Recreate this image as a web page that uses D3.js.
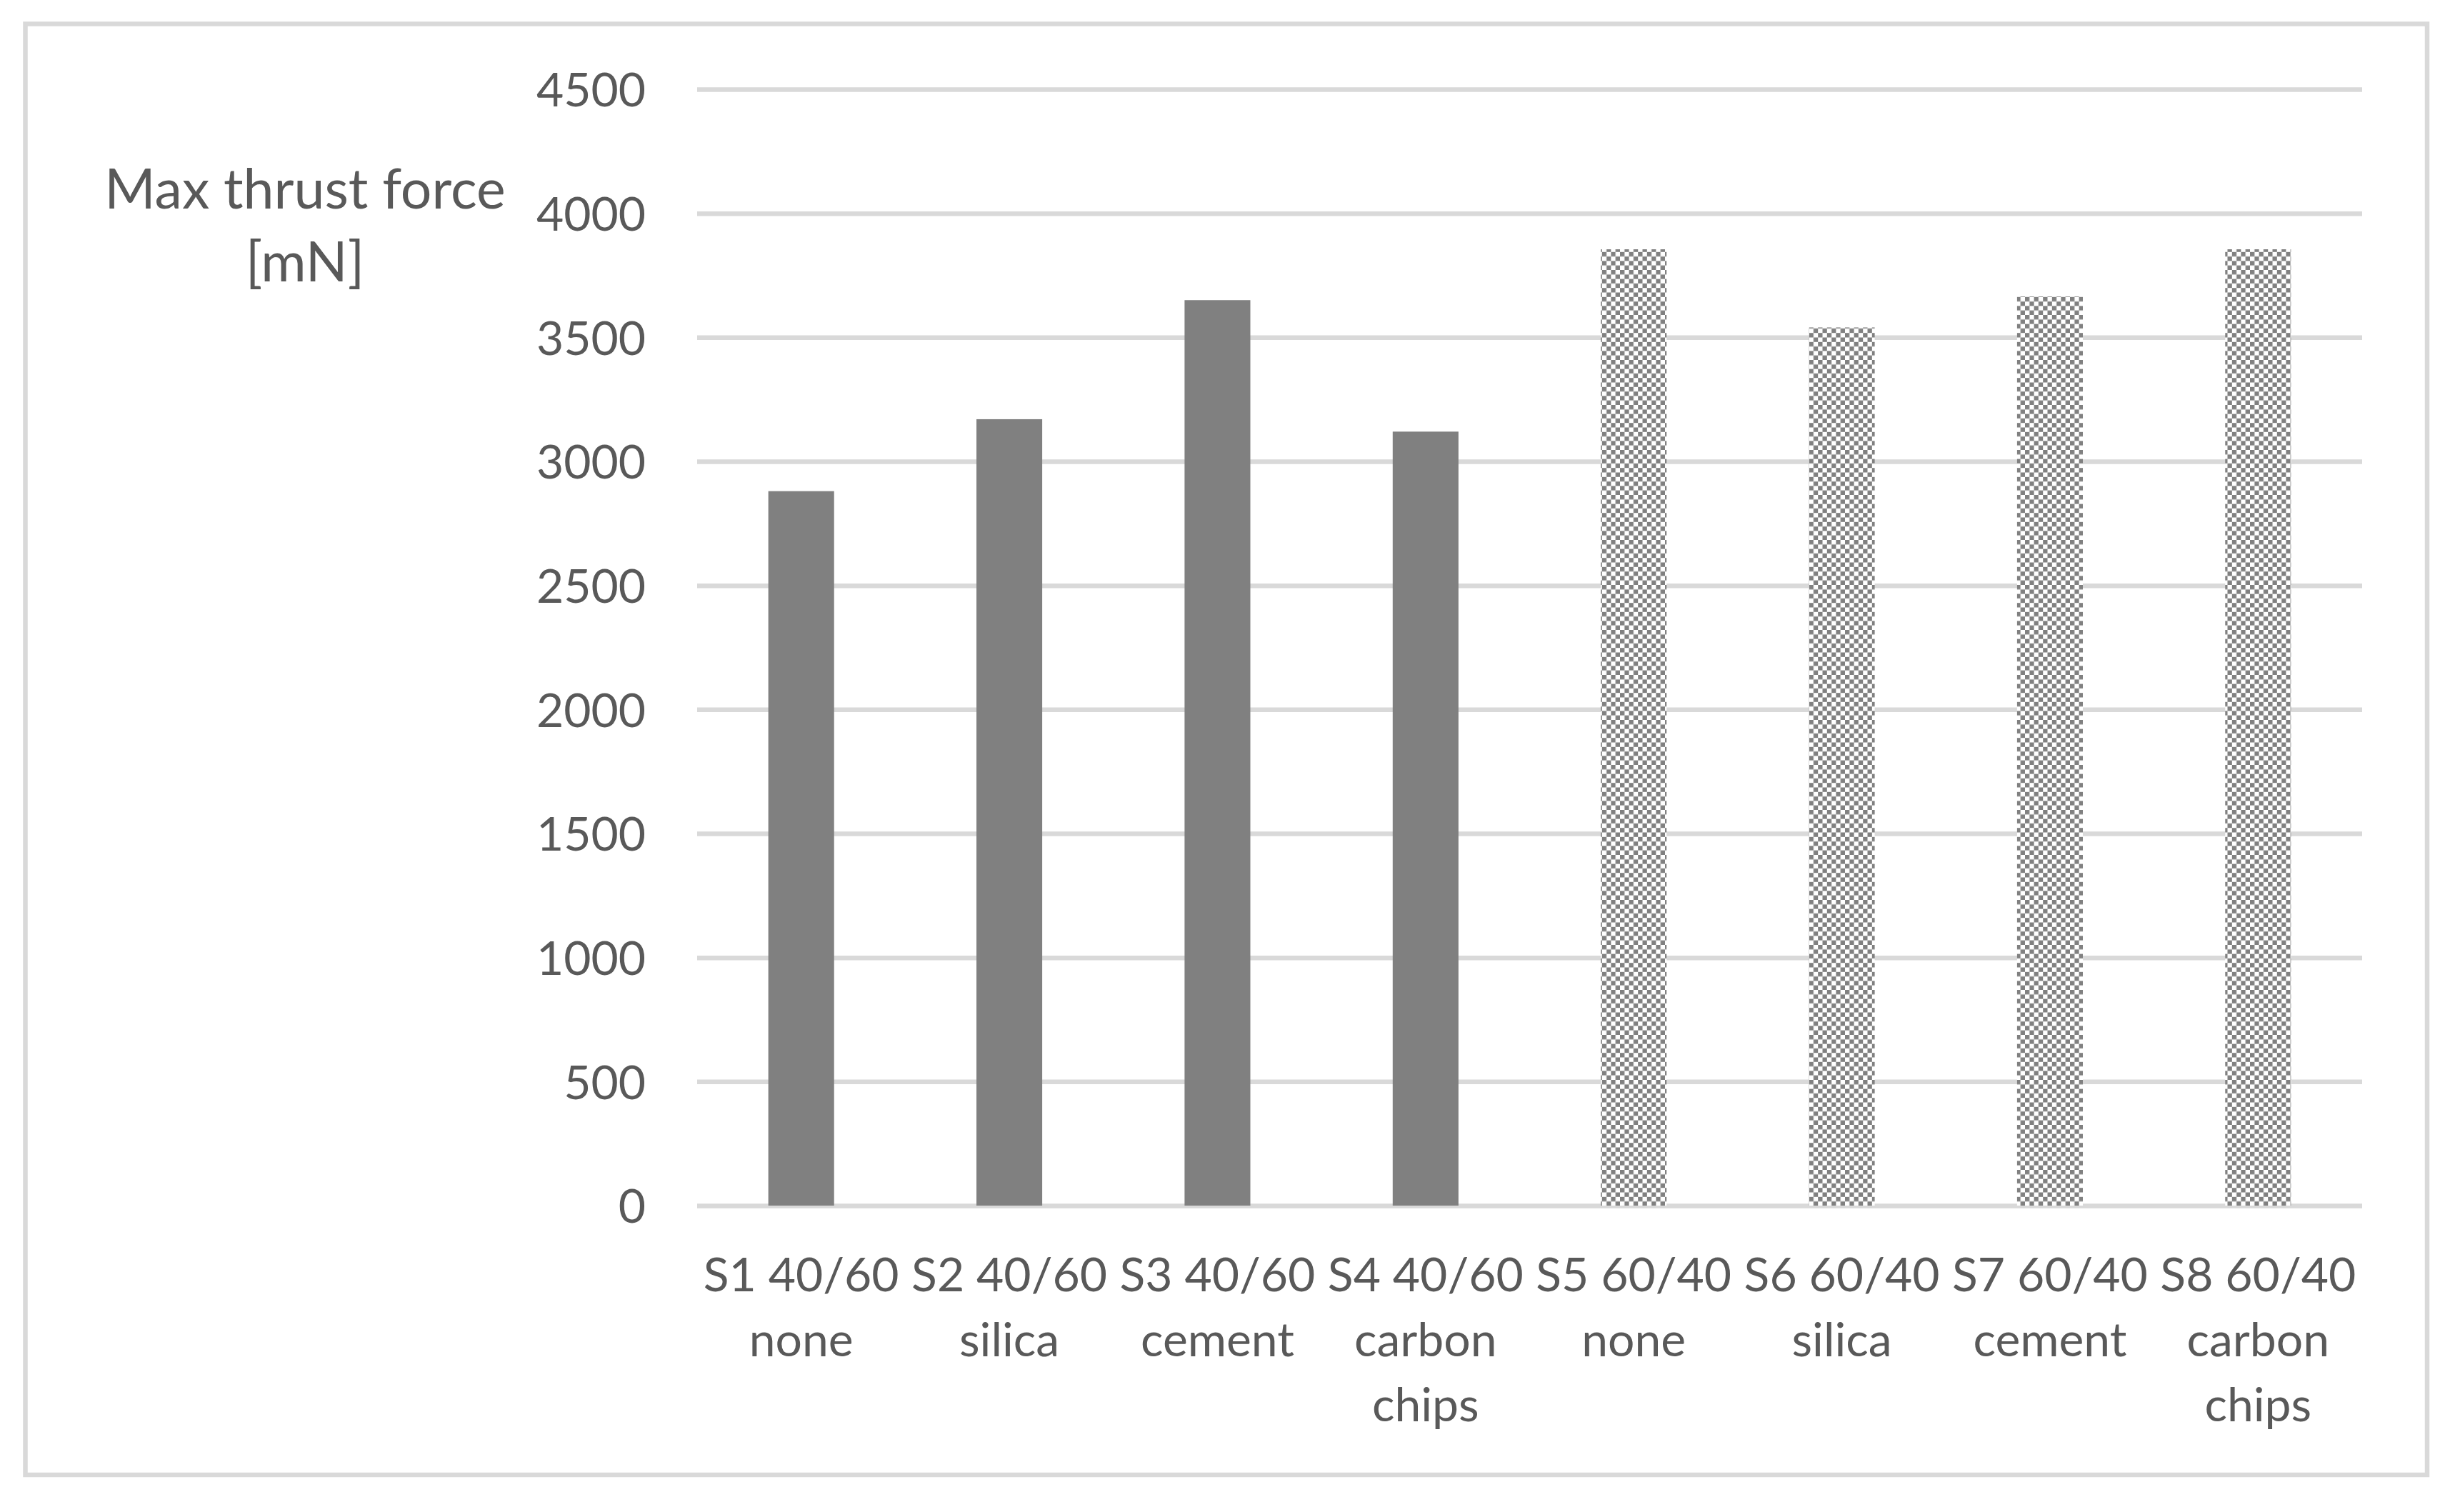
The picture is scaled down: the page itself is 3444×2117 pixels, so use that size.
<!DOCTYPE html>
<html>
<head>
<meta charset="utf-8">
<script src="https://cdn.jsdelivr.net/npm/d3@7.9.0/dist/d3.min.js"></script>
<style>
  body { margin: 0; background: #fff; }
  svg text { font-family: Lato, "Open Sans", sans-serif; fill: #595959; }
</style>
</head>
<body>
<svg id="chart" width="3444" height="2117"></svg>
<script>
// data
const samples = ['S1', 'S2', 'S3', 'S4', 'S5', 'S6', 'S7', 'S8'];
const ratios = ['40/60', '40/60', '40/60', '40/60', '60/40', '60/40', '60/40', '60/40'];
const fillers = [['none'], ['silica'], ['cement'], ['carbon', 'chips'], ['none'], ['silica'], ['cement'], ['carbon', 'chips']];
const thrust = [2880, 3170, 3650, 3120, 3855, 3540, 3665, 3855];
const yTicks = [0, 500, 1000, 1500, 2000, 2500, 3000, 3500, 4000, 4500];

const svg = d3.select('#chart');
const W = 3444, H = 2117;
const plot = { left: 976, right: 3307, top: 125, bottom: 1688 };

svg.append('rect').attr('width', W).attr('height', H).attr('fill', '#fff');

// outer chart border
svg.append('rect')
  .attr('x', 35.5).attr('y', 33.5)
  .attr('width', 3398 - 35.5).attr('height', 2065 - 33.5)
  .attr('fill', 'none')
  .attr('stroke', '#d9d9d9')
  .attr('stroke-width', 6.5);

// checkerboard fill for the 60/40 bars
const defs = svg.append('defs');
const pat = defs.append('pattern')
  .attr('id', 'checker')
  .attr('patternUnits', 'userSpaceOnUse')
  .attr('width', 12.6).attr('height', 12.6);
pat.append('rect').attr('width', 12.6).attr('height', 12.6).attr('fill', '#fff');
pat.append('rect').attr('width', 6.3).attr('height', 6.3).attr('fill', '#808080');
pat.append('rect').attr('x', 6.3).attr('y', 6.3).attr('width', 6.3).attr('height', 6.3).attr('fill', '#808080');

const x = d3.scaleBand()
  .domain(samples)
  .range([plot.left, plot.right])
  .paddingInner(0.684)
  .paddingOuter(0.342);

const y = d3.scaleLinear()
  .domain([0, 4500])
  .range([plot.bottom, plot.top]);

// gridlines
const grid = svg.append('g')
  .attr('transform', `translate(${plot.left},0)`)
  .call(d3.axisLeft(y).tickValues(yTicks).tickSize(-(plot.right - plot.left)).tickFormat(''));
grid.select('.domain').remove();
grid.selectAll('line').attr('stroke', '#d9d9d9').attr('stroke-width', 6.5);

// y tick labels
const yAxis = svg.append('g')
  .attr('transform', `translate(${plot.left},0)`)
  .call(d3.axisLeft(y).tickValues(yTicks).tickSize(0).tickPadding(72).tickFormat(d3.format('d')));
yAxis.select('.domain').remove();
yAxis.selectAll('text')
  .attr('font-size', 66)
  .attr('fill', '#595959')
  .attr('font-family', 'Lato, sans-serif')
  .attr('dy', '0.36em');

// bars
svg.append('g').selectAll('rect')
  .data(samples)
  .join('rect')
  .attr('x', d => x(d))
  .attr('width', x.bandwidth())
  .attr('y', (d, i) => y(thrust[i]))
  .attr('height', (d, i) => y(0) - y(thrust[i]))
  .attr('fill', (d, i) => ratios[i] === '40/60' ? '#808080' : 'url(#checker)');

// category labels
const labels = svg.append('g').selectAll('text')
  .data(samples)
  .join('text')
  .attr('x', d => x(d) + x.bandwidth() / 2)
  .attr('y', 1808)
  .attr('text-anchor', 'middle')
  .attr('font-size', 66);

labels.each(function (d, i) {
  const t = d3.select(this);
  t.append('tspan').attr('x', x(d) + x.bandwidth() / 2).text(`${d} ${ratios[i]}`);
  fillers[i].forEach(word => {
    t.append('tspan').attr('x', x(d) + x.bandwidth() / 2).attr('dy', 91).text(word);
  });
});

// y axis title
const title = svg.append('text')
  .attr('text-anchor', 'middle')
  .attr('font-size', 77);
title.append('tspan').attr('x', 427).attr('y', 292).text('Max thrust force');
title.append('tspan').attr('x', 427).attr('y', 394).text('[mN]');
</script>
</body>
</html>
